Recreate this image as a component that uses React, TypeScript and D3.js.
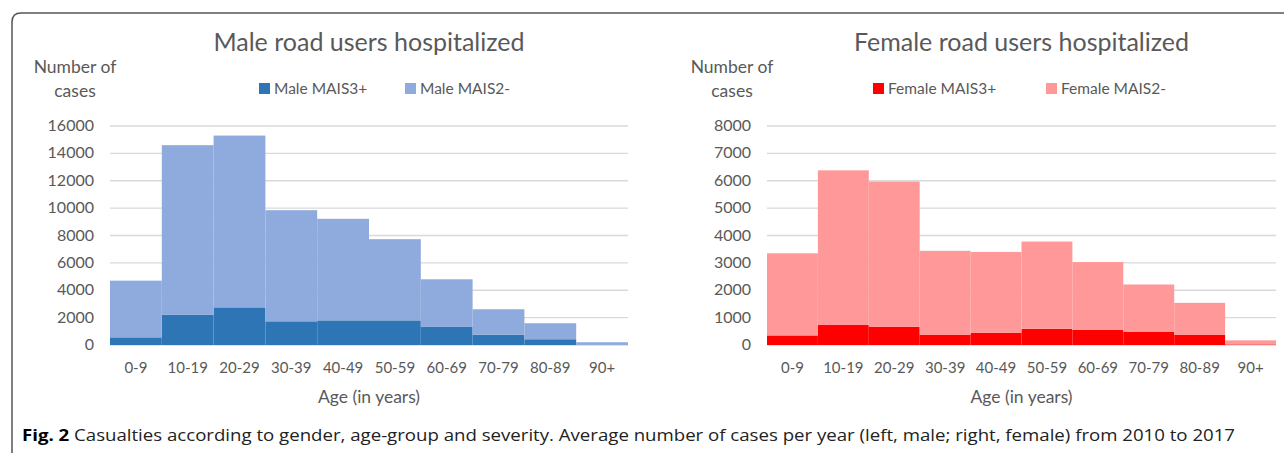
import React from "react";
import * as d3 from "d3";

const ageGroups = ["0-9", "10-19", "20-29", "30-39", "40-49", "50-59", "60-69", "70-79", "80-89", "90+"];

const maleMAIS3 = [560, 2200, 2750, 1730, 1800, 1800, 1320, 760, 420, 30];
const maleMAIS2 = [4140, 12400, 12550, 8120, 7420, 5930, 3480, 1850, 1170, 170];

const femaleMAIS3 = [350, 730, 660, 380, 450, 590, 550, 490, 380, 20];
const femaleMAIS2 = [3000, 5650, 5310, 3060, 2950, 3190, 2480, 1720, 1160, 150];

const maleTicks = [0, 2000, 4000, 6000, 8000, 10000, 12000, 14000, 16000];
const femaleTicks = [0, 1000, 2000, 3000, 4000, 5000, 6000, 7000, 8000];

const FONT = "Lato, 'Open Sans', sans-serif";
const GREY = "#595959";

type PanelProps = {
  title: string;
  left: number;
  right: number;
  severe: number[];
  mild: number[];
  ticks: number[];
  colors: [string, string];
  labels: [string, string];
  legendX: number;
  legendGap: number;
};

const Panel = ({ title, left, right, severe, mild, ticks, colors, labels, legendX, legendGap }: PanelProps) => {
  const top = 126;
  const bottom = 345;

  const x = d3.scaleBand().domain(ageGroups).range([left, right]).padding(0);
  const y = d3.scaleLinear().domain([0, d3.max(ticks) as number]).range([bottom, top]);

  const rows = ageGroups.map((g, i) => ({ g, severe: severe[i], mild: mild[i] }));
  const series = d3.stack<any>().keys(["severe", "mild"])(rows);

  const mid = (left + right) / 2;

  return (
    <g>
      <text x={mid} y={51} textAnchor="middle" fontSize={25} fill={GREY} fontFamily={FONT}>
        {title}
      </text>
      <text x={left - 35} y={73} textAnchor="middle" fontSize={17.5} fill={GREY} fontFamily={FONT}>
        Number of
      </text>
      <text x={left - 35} y={97} textAnchor="middle" fontSize={17.5} fill={GREY} fontFamily={FONT}>
        cases
      </text>

      {/* legend */}
      <rect x={legendX} y={83} width={11} height={11} fill={colors[0]} />
      <text x={legendX + 15} y={94} fontSize={15.5} fill={GREY} fontFamily={FONT}>
        {labels[0]}
      </text>
      <rect x={legendX + legendGap} y={83} width={11} height={11} fill={colors[1]} />
      <text x={legendX + legendGap + 15} y={94} fontSize={15.5} fill={GREY} fontFamily={FONT}>
        {labels[1]}
      </text>

      {/* grid + y labels */}
      {ticks.map((t) => (
        <g key={t}>
          <line x1={left} x2={right} y1={y(t)} y2={y(t)} stroke="#d9d9d9" strokeWidth={1.3} />
          <text x={left - 16} y={y(t) + 5} textAnchor="end" fontSize={16} fill={GREY} fontFamily={FONT}>
            {t}
          </text>
        </g>
      ))}

      {/* bars */}
      {series.map((s, si) => (
        <g key={s.key} fill={colors[si]}>
          {s.map((d: any) => (
            <rect
              key={d.data.g}
              x={x(d.data.g)}
              y={y(d[1])}
              width={x.bandwidth()}
              height={y(d[0]) - y(d[1])}
            />
          ))}
        </g>
      ))}

      {/* x labels */}
      {ageGroups.map((g) => (
        <text
          key={g}
          x={(x(g) as number) + x.bandwidth() / 2}
          y={373}
          textAnchor="middle"
          fontSize={15}
          fill={GREY}
          fontFamily={FONT}
        >
          {g}
        </text>
      ))}
      <text x={mid} y={403} textAnchor="middle" fontSize={17.5} fill={GREY} fontFamily={FONT}>
        Age (in years)
      </text>
    </g>
  );
};

export default function App() {
  return (
    <svg
      width={1284}
      height={453}
      style={{ position: "absolute", left: 0, top: 0, background: "#fff" }}
    >
      <path d="M12,453 L12,22 Q12,13 21,13 L1284,13" fill="none" stroke="#555" strokeWidth={1.5} />
      <Panel
        title="Male road users hospitalized"
        left={110}
        right={628}
        severe={maleMAIS3}
        mild={maleMAIS2}
        ticks={maleTicks}
        colors={["#2e75b6", "#8faadc"]}
        labels={["Male MAIS3+", "Male MAIS2-"]}
        legendX={259}
        legendGap={146}
      />
      <Panel
        title="Female road users hospitalized"
        left={767}
        right={1276}
        severe={femaleMAIS3}
        mild={femaleMAIS2}
        ticks={femaleTicks}
        colors={["#ff0000", "#ff9999"]}
        labels={["Female MAIS3+", "Female MAIS2-"]}
        legendX={873}
        legendGap={173}
      />
      <text x={22} y={441} fontSize={16} fill="#222" fontFamily="'Open Sans', sans-serif" textLength={1213} lengthAdjust="spacingAndGlyphs">
        <tspan fontWeight="bold" fill="#000">Fig. 2</tspan> Casualties according to gender, age-group and severity. Average number of cases per year (left, male; right, female) from 2010 to 2017
      </text>
    </svg>
  );
}
